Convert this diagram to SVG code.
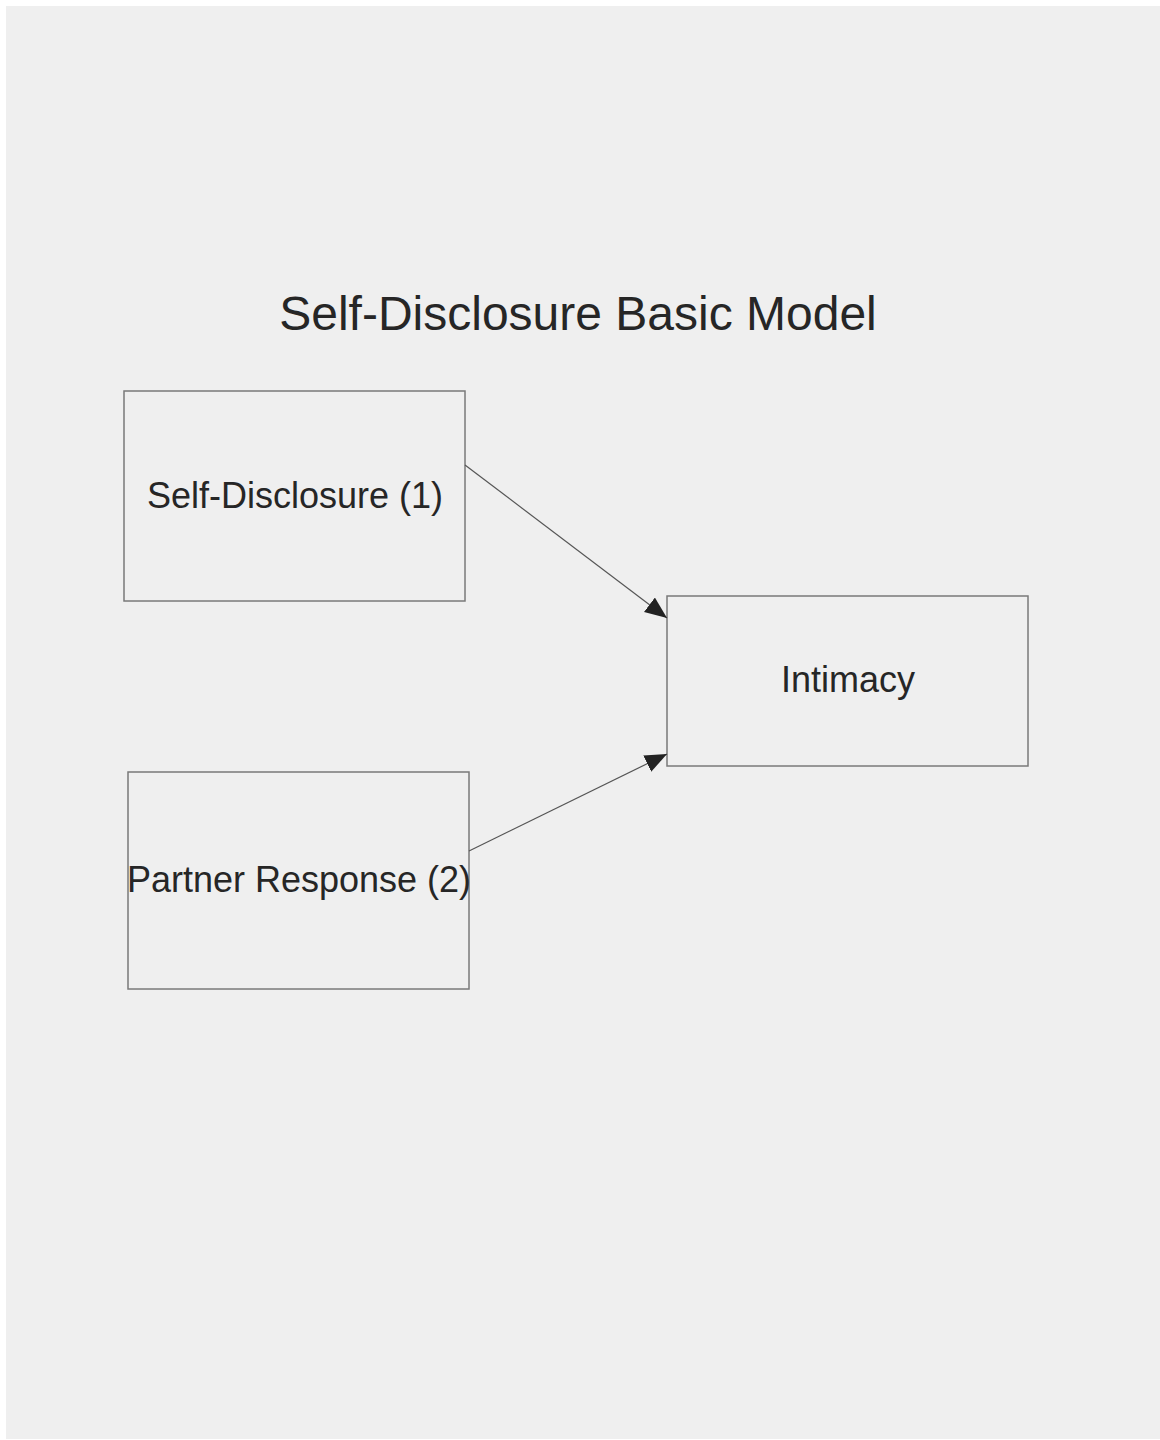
<svg xmlns="http://www.w3.org/2000/svg" width="1160" height="1440" viewBox="0 0 1160 1440">
<style>
.node rect{fill:none;stroke:#7a7a7a;stroke-width:1.5}
.lbl{font-family:"Liberation Sans",Arial,sans-serif;font-size:36px;fill:#262626;text-anchor:middle}
.title{font-family:"Liberation Sans",Arial,sans-serif;font-size:48px;fill:#262626;text-anchor:middle}
.conn line{stroke:#555;stroke-width:1.2;fill:none}
</style>
<defs>
<marker id="ah" markerUnits="userSpaceOnUse" markerWidth="24" markerHeight="20" refX="22" refY="9" orient="auto">
<path d="M0,0 L22,9 L0,18 Z" fill="#222"/>
</marker>
</defs>
<rect x="0" y="0" width="1160" height="1440" fill="#ffffff"/>
<rect x="6" y="6" width="1154" height="1433" fill="#efefef"/>
<text class="title" x="578" y="330">Self-Disclosure Basic Model</text>
<g id="node-self-disclosure" class="node">
<rect x="124" y="391" width="341" height="210"/>
<text class="lbl" x="295" y="508">Self-Disclosure (1)</text>
</g>
<g id="node-partner-response" class="node">
<rect x="128" y="772" width="341" height="217"/>
<text class="lbl" x="299" y="892">Partner Response (2)</text>
</g>
<g id="node-intimacy" class="node">
<rect x="667" y="596" width="361" height="170"/>
<text class="lbl" x="848" y="692">Intimacy</text>
</g>
<g id="connectors" class="conn">
<line x1="465" y1="465" x2="667" y2="618" marker-end="url(#ah)"/>
<line x1="469" y1="851" x2="667" y2="754" marker-end="url(#ah)"/>
</g>
</svg>
